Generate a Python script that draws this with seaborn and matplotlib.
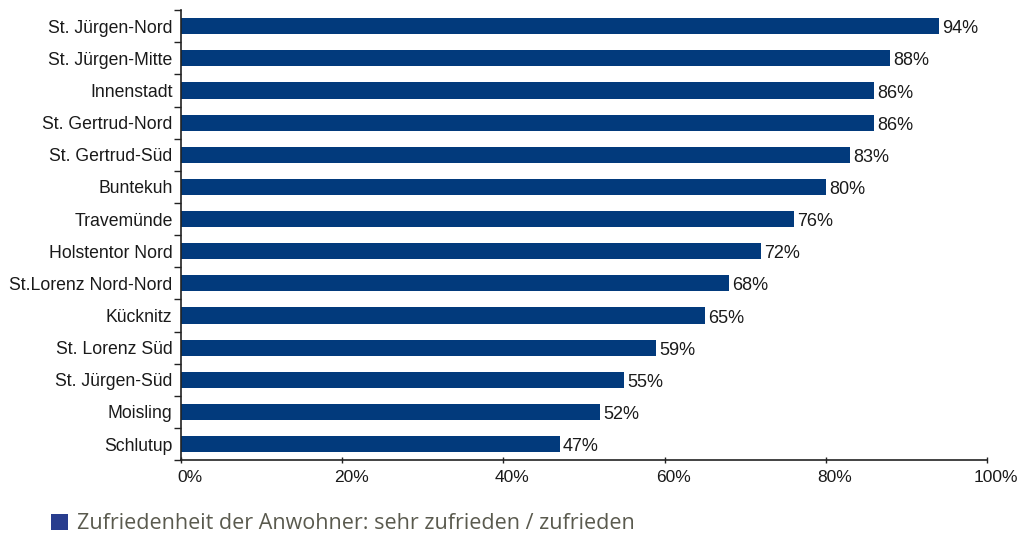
import numpy as np
import pandas as pd
import matplotlib
matplotlib.use("Agg")
import matplotlib.pyplot as plt
import matplotlib.transforms as mtransforms
from matplotlib.patches import Patch
import seaborn as sns

stadtteile = ["St. Jürgen-Nord", "St. Jürgen-Mitte", "Innenstadt", "St. Gertrud-Nord",
              "St. Gertrud-Süd", "Buntekuh", "Travemünde", "Holstentor Nord",
              "St.Lorenz Nord-Nord", "Kücknitz", "St. Lorenz Süd", "St. Jürgen-Süd",
              "Moisling", "Schlutup"]
zufrieden = [94, 88, 86, 86, 83, 80, 76, 72, 68, 65, 59, 55, 52, 47]
x_ticks = [0, 20, 40, 60, 80, 100]
legend_text = "Zufriedenheit der Anwohner: sehr zufrieden / zufrieden"

bar_color = "#023a7c"

df = pd.DataFrame({"stadtteil": stadtteile, "wert": zufrieden})

sns.set_theme(style="ticks")
plt.rcParams["font.family"] = ["Liberation Sans", "DejaVu Sans"]

fig = plt.figure(figsize=(10.34, 5.35), dpi=100)
ax = fig.add_axes([0.175, 0.140, 0.7795, 0.841])

sns.barplot(data=df, x="wert", y="stadtteil", color=bar_color, width=0.5,
            saturation=1, ax=ax, edgecolor="none")

for i, v in enumerate(zufrieden):
    ax.text(v + 0.4, i + 0.08, f"{v}%", va="center", ha="left",
            fontsize=13, color="#1a1a1a")

ax.set_xlim(0, 100)
ax.set_ylim(len(stadtteile) - 0.5, -0.5)
ax.set_xticks(x_ticks)
ax.set_xticklabels([f"{t}%" for t in x_ticks])
ax.set_xlabel("")
ax.set_ylabel("")

# Ticks der y-Achse zwischen den Kategorien
ax.set_yticks(np.arange(-0.5, len(stadtteile), 1), minor=True)
ax.tick_params(axis="y", which="major", length=0, pad=6, labelsize=12.7, labelcolor="#1a1a1a")
ax.tick_params(axis="y", which="minor", length=5, width=1, color="#222222")
ax.tick_params(axis="x", which="major", length=4, width=1, direction="inout",
               color="#222222", labelsize=12.5, labelcolor="#1a1a1a", pad=5)

offset = mtransforms.ScaledTranslation(9 / 100, 0, fig.dpi_scale_trans)
for lbl in ax.get_xticklabels():
    lbl.set_transform(lbl.get_transform() + offset)

sns.despine(ax=ax)
for s in ["left", "bottom"]:
    ax.spines[s].set_color("#222222")
    ax.spines[s].set_linewidth(1.2)

fig.legend(handles=[Patch(facecolor="#283d8e", edgecolor="none", label=legend_text)],
           loc="lower left", bbox_to_anchor=(0.031, -0.035), frameon=False,
           handlelength=0.75, handleheight=0.75, handletextpad=0.45,
           prop={"family": "Open Sans", "size": 15.5}, labelcolor="#5a5a4e")

fig.savefig("out.png", dpi=100)
